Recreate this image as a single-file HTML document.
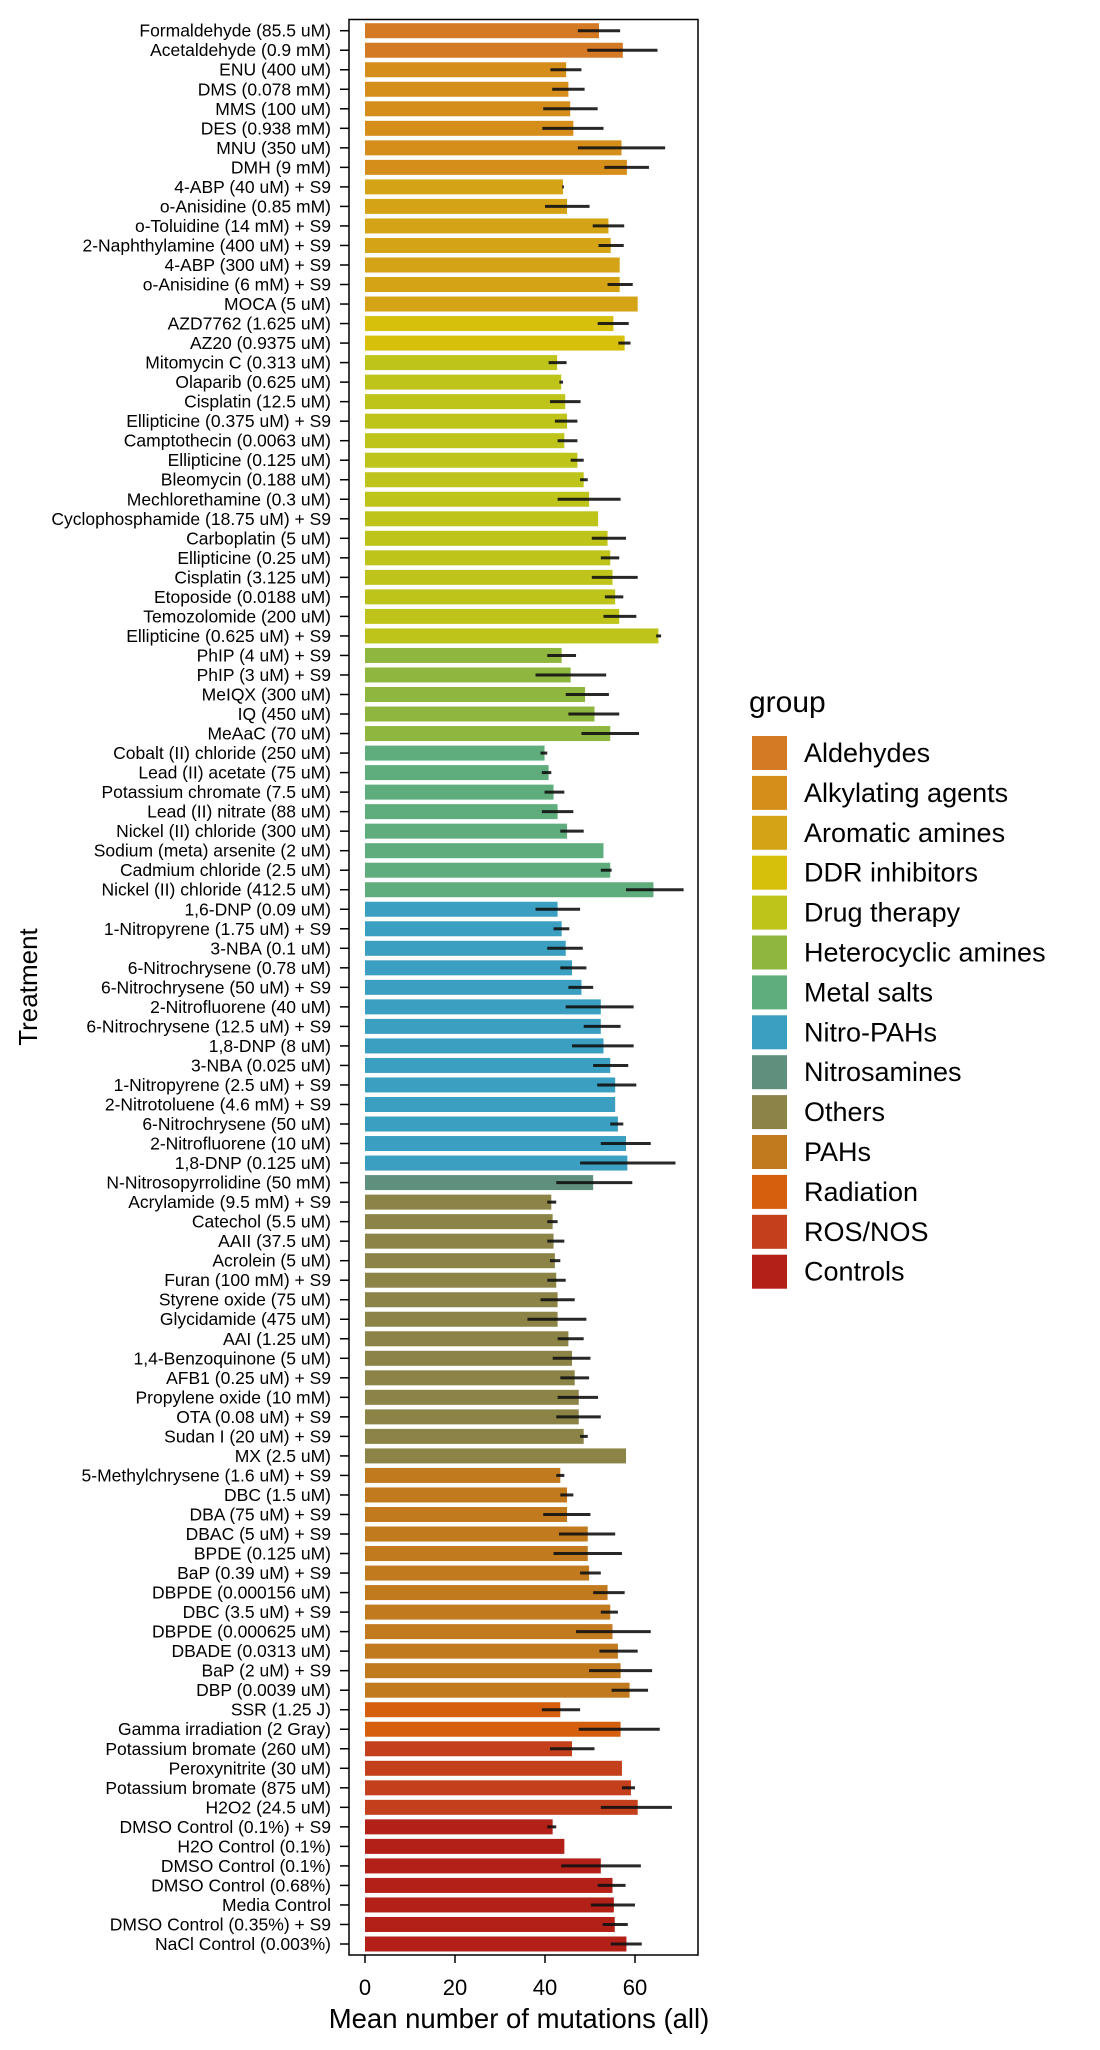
<!DOCTYPE html>
<html><head><meta charset="utf-8"><style>
body{margin:0;background:#fff}
svg{display:block;font-family:"Liberation Sans",Arial,sans-serif}
</style></head><body>
<svg id="chart" width="1100" height="2050" viewBox="0 0 1100 2050" xmlns="http://www.w3.org/2000/svg"></svg>
<script>
const treatments=["Formaldehyde (85.5 uM)","Acetaldehyde (0.9 mM)","ENU (400 uM)","DMS (0.078 mM)","MMS (100 uM)","DES (0.938 mM)","MNU (350 uM)","DMH (9 mM)","4-ABP (40 uM) + S9","o-Anisidine (0.85 mM)","o-Toluidine (14 mM) + S9","2-Naphthylamine (400 uM) + S9","4-ABP (300 uM) + S9","o-Anisidine (6 mM) + S9","MOCA (5 uM)","AZD7762 (1.625 uM)","AZ20 (0.9375 uM)","Mitomycin C (0.313 uM)","Olaparib (0.625 uM)","Cisplatin (12.5 uM)","Ellipticine (0.375 uM) + S9","Camptothecin (0.0063 uM)","Ellipticine (0.125 uM)","Bleomycin (0.188 uM)","Mechlorethamine (0.3 uM)","Cyclophosphamide (18.75 uM) + S9","Carboplatin (5 uM)","Ellipticine (0.25 uM)","Cisplatin (3.125 uM)","Etoposide (0.0188 uM)","Temozolomide (200 uM)","Ellipticine (0.625 uM) + S9","PhIP (4 uM) + S9","PhIP (3 uM) + S9","MeIQX (300 uM)","IQ (450 uM)","MeAaC (70 uM)","Cobalt (II) chloride (250 uM)","Lead (II) acetate (75 uM)","Potassium chromate (7.5 uM)","Lead (II) nitrate (88 uM)","Nickel (II) chloride (300 uM)","Sodium (meta) arsenite (2 uM)","Cadmium chloride (2.5 uM)","Nickel (II) chloride (412.5 uM)","1,6-DNP (0.09 uM)","1-Nitropyrene (1.75 uM) + S9","3-NBA (0.1 uM)","6-Nitrochrysene (0.78 uM)","6-Nitrochrysene (50 uM) + S9","2-Nitrofluorene (40 uM)","6-Nitrochrysene (12.5 uM) + S9","1,8-DNP (8 uM)","3-NBA (0.025 uM)","1-Nitropyrene (2.5  uM) + S9","2-Nitrotoluene (4.6 mM) + S9","6-Nitrochrysene (50 uM)","2-Nitrofluorene (10 uM)","1,8-DNP (0.125 uM)","N-Nitrosopyrrolidine (50 mM)","Acrylamide (9.5 mM) + S9","Catechol (5.5 uM)","AAII (37.5 uM)","Acrolein (5 uM)","Furan (100 mM) + S9","Styrene oxide (75 uM)","Glycidamide (475 uM)","AAI (1.25 uM)","1,4-Benzoquinone (5 uM)","AFB1 (0.25 uM) + S9","Propylene oxide (10 mM)","OTA (0.08 uM) + S9","Sudan I (20 uM) + S9","MX (2.5 uM)","5-Methylchrysene (1.6 uM) + S9","DBC (1.5 uM)","DBA (75 uM) + S9","DBAC (5 uM) + S9","BPDE (0.125 uM)","BaP (0.39 uM) + S9","DBPDE (0.000156 uM)","DBC (3.5 uM) + S9","DBPDE (0.000625 uM)","DBADE (0.0313 uM)","BaP (2 uM) + S9","DBP (0.0039 uM)","SSR (1.25 J)","Gamma irradiation (2 Gray)","Potassium bromate (260 uM)","Peroxynitrite (30 uM)","Potassium bromate (875 uM)","H2O2 (24.5 uM)","DMSO Control (0.1%) + S9","H2O Control (0.1%)","DMSO Control (0.1%)","DMSO Control (0.68%)","Media Control","DMSO Control (0.35%) + S9","NaCl Control (0.003%)"];
const groupCounts=[2,6,7,2,15,5,8,14,1,14,12,2,4,7];
const groupNames=["Aldehydes","Alkylating agents","Aromatic amines","DDR inhibitors","Drug therapy","Heterocyclic amines","Metal salts","Nitro-PAHs","Nitrosamines","Others","PAHs","Radiation","ROS/NOS","Controls"];
const groupColors=["#d47a24","#d68e1a","#d4a416","#d6c00c","#bfc41a","#8fb63f","#5fad7d","#3a9fc0","#5f907e","#8c8447","#c27a1f","#d65f0e","#c4401c","#b22017"];
const means=[52,57.3,44.7,45.2,45.6,46.3,57,58.2,44,44.9,54.1,54.6,56.6,56.6,60.6,55.2,57.7,42.7,43.6,44.5,44.9,44.3,47.2,48.6,49.8,51.8,53.9,54.5,55,55.6,56.5,65.2,43.7,45.7,48.9,51,54.5,39.9,40.8,41.9,42.8,44.9,53,54.5,64.1,42.8,43.7,44.6,46,48.1,52.4,52.4,53,54.5,55.6,55.6,56.2,58,58.3,50.7,41.4,41.7,41.9,42.2,42.5,42.8,42.8,45.2,46,46.6,47.5,47.5,48.6,58,43.4,44.9,44.9,49.5,49.5,49.8,53.9,54.5,55,56.2,56.8,58.8,43.4,56.8,46,57.1,59.1,60.6,41.7,44.3,52.4,55,55.3,55.5,58.1];
const errLo=[47.3,49.4,41.2,41.6,39.6,39.4,47.3,53.2,43.8,40,50.6,51.9,null,53.9,null,51.7,56.3,40.8,43.2,41.1,42.2,42.8,45.7,47.8,42.8,null,50.4,52.4,50.4,53.3,53,64.7,40.5,37.9,44.6,45.2,48.1,39,39.3,39.9,39.3,43.4,null,52.4,58,37.9,41.9,40.5,43.4,45.2,44.6,48.6,46,50.7,51.6,null,54.5,52.4,47.8,42.5,40.5,40.5,40.5,41.1,40.5,39,36.1,42.8,41.7,43.4,42.8,42.5,47.8,null,42.5,43.4,39.6,43.1,41.9,47.8,50.7,52.4,46.9,52.1,49.8,54.8,39.3,47.5,41.1,null,57.1,52.4,40.5,null,43.6,51.7,50.2,52.8,54.6];
const errHi=[56.7,65,48.1,48.8,51.7,53,66.7,63.1,44.2,49.9,57.6,57.5,null,59.5,null,58.6,59,44.8,44,47.9,47.2,47.2,48.6,49.5,56.8,null,58,56.5,60.6,57.4,60.3,65.8,46.9,53.6,54.2,56.5,60.9,40.5,41.4,44.3,46.3,48.6,null,54.8,70.8,47.8,45.4,48.4,49.2,50.7,59.7,56.8,59.7,58.5,60.3,null,57.4,63.5,69,59.4,42.5,42.8,44.3,43.4,44.6,46.6,49.2,48.6,50.1,49.8,51.8,52.4,49.5,null,44.3,46.3,50.1,55.6,57.1,52.4,57.7,56.2,63.5,60.6,63.8,62.9,47.8,65.5,51,null,60,68.2,42.5,null,61.3,57.9,60,58.4,61.5];
const xTicks=[0,20,40,60];

const NS="http://www.w3.org/2000/svg";
const svg=document.getElementById('chart');
function mk(tag,attrs,parent){const e=document.createElementNS(NS,tag);for(const k in attrs)e.setAttribute(k,attrs[k]);(parent||svg).appendChild(e);return e;}
const P={l:349,r:698,t:19.5,b:1955};
const x0=365,pxPerUnit=4.5;
function xs(v){return x0+v*pxPerUnit;}
const rowTop=30.7,rowStep=(1944-30.7)/98,barH=15;
function ys(i){return rowTop+i*rowStep;}
const groupOf=[];groupCounts.forEach((c,g)=>{for(let k=0;k<c;k++)groupOf.push(g);});

const frame=mk('rect',{x:P.l,y:P.t,width:P.r-P.l,height:P.b-P.t,fill:'none',stroke:'#000','stroke-width':1.5});



treatments.forEach((t,i)=>{
  const y=ys(i);
  const bar=mk('rect',{x:xs(0),y:y-barH/2,width:xs(means[i])-xs(0),height:barH,fill:groupColors[groupOf[i]]});
  
  
  if(errLo[i]!==null){
    const eb=mk('line',{x1:xs(errLo[i]),x2:xs(errHi[i]),y1:y,y2:y,stroke:'#111','stroke-width':3,'stroke-opacity':0.9});
    
    
  }
  const tk=mk('line',{x1:P.l-9,x2:P.l,y1:y,y2:y,stroke:'#000','stroke-width':1.5});
  
  
  const lb=mk('text',{x:331,y:y+6,'text-anchor':'end','font-size':17.5,fill:'#000'});
  lb.textContent=t;
  
  
});
xTicks.forEach(v=>{
  const tk=mk('line',{x1:xs(v),x2:xs(v),y1:P.b,y2:P.b+8,stroke:'#000','stroke-width':1.5});
  
  
  const lb=mk('text',{x:xs(v),y:1995,'text-anchor':'middle','font-size':22,fill:'#000'});
  lb.textContent=v;
  
  
});
const xt=mk('text',{x:519,y:2028,'text-anchor':'middle','font-size':27.5,fill:'#000'});
xt.textContent='Mean number of mutations (all)';


const yt=mk('text',{x:0,y:0,'text-anchor':'middle','font-size':26,fill:'#000',transform:'translate(37,987) rotate(-90)'});
yt.textContent='Treatment';



const lt=mk('text',{x:749,y:712,'font-size':30,fill:'#000'});
lt.textContent='group';


groupNames.forEach((n,g)=>{
  const y=736+g*39.9;
  const sw=mk('rect',{x:752,y:y,width:35,height:34,fill:groupColors[g]});
  
  
  const tx=mk('text',{x:804,y:y+26,'font-size':27,fill:'#000'});
  tx.textContent=n;
  
  
});
</script>
</body></html>
